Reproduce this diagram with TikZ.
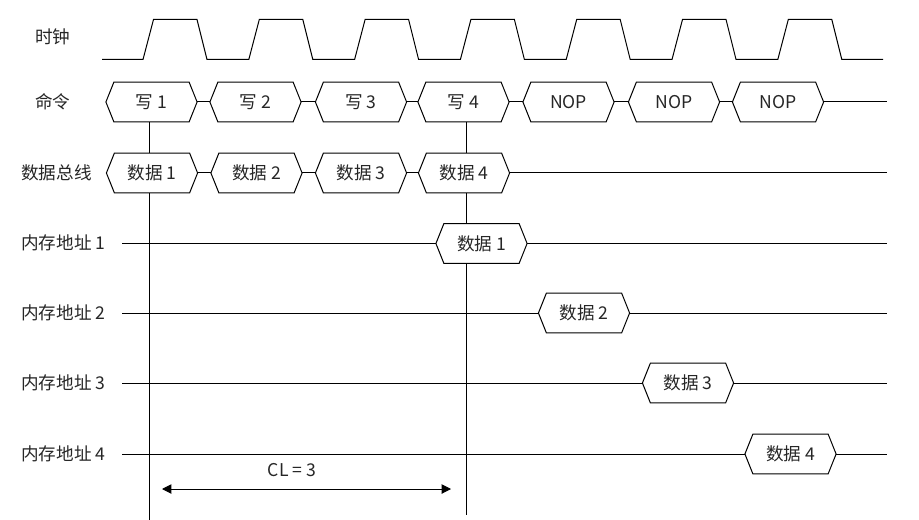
\documentclass[tikz,border=0pt]{standalone}
\usepackage{fontspec}
\newfontfamily\cjk{Noto Sans CJK SC}
\usetikzlibrary{calc,arrows.meta}
\tikzset{
  sig/.style={line width=0.75pt, black, line join=miter},
  txt/.style={font=\cjk\fontsize{13.2}{15}\selectfont, text=black!85},
  hexn/.style={txt, minimum width=56pt, minimum height=29.5pt, inner sep=0pt},
  lbl/.style={txt, anchor=west, inner sep=0pt},
}
\newcommand\hexbox[4]{%
  \node[hexn] (#1) at (#2,#3) {#4};
  \coordinate (#1-l) at ($(#1.west)+(-8,0)$);
  \coordinate (#1-r) at ($(#1.east)+(8,0)$);
  \draw[sig] (#1.north west) -- (#1.north east) -- (#1-r) -- (#1.south east) -- (#1.south west) -- (#1-l) -- cycle;
}
\begin{document}
\begin{tikzpicture}[x=0.75pt,y=-0.75pt]
\useasboundingbox (0,0) rectangle (919,520);

% row labels
\node[lbl] (lclk) at (35,37) {时钟};
\node[lbl] (lcmd) at (35,102) {命令};
\node[lbl] (ldat) at (21,173) {数据总线};
\node[lbl] (lm1) at (21,243) {内存地址 1};
\node[lbl] (lm2) at (21,313) {内存地址 2};
\node[lbl] (lm3) at (21,383) {内存地址 3};
\node[lbl] (lm4) at (21,454) {内存地址 4};

% clock
\draw[sig] (102,59.5)
  \foreach \k in {0,...,6} {
    -- ({143+105.8*\k},59.5) -- ({153.5+105.8*\k},19.5)
    -- ({197+105.8*\k},19.5) -- ({207+105.8*\k},59.5)
  } -- (883,59.5);

% command bus
\hexbox{c1}{151.5}{102}{写 1}
\hexbox{c2}{255.5}{102}{写 2}
\hexbox{c3}{361}{102}{写 3}
\hexbox{c4}{463.5}{102}{写 4}
\hexbox{c5}{568.5}{102}{NOP}
\hexbox{c6}{674}{102}{NOP}
\hexbox{c7}{778}{102}{NOP}
\coordinate (cend) at (887,102);
\draw[sig] (c1-r) -- (c2-l) (c2-r) -- (c3-l) (c3-r) -- (c4-l) (c4-r) -- (c5-l)
  (c5-r) -- (c6-l) (c6-r) -- (c7-l) (c7-r) -- (cend);

% data bus
\hexbox{d1}{152}{173}{数据 1}
\hexbox{d2}{256.5}{173}{数据 2}
\hexbox{d3}{361}{173}{数据 3}
\hexbox{d4}{464}{173}{数据 4}
\coordinate (dend) at (887,173);
\draw[sig] (d1-r) -- (d2-l) (d2-r) -- (d3-l) (d3-r) -- (d4-l) (d4-r) -- (dend);

% memory rows
\hexbox{m1}{481.5}{243.5}{数据 1}
\hexbox{m2}{584}{313}{数据 2}
\hexbox{m3}{688}{383}{数据 3}
\hexbox{m4}{790.5}{454}{数据 4}
\foreach \m/\y in {m1/243.5, m2/313, m3/383, m4/454} {
  \coordinate (\m-s) at (122,\y);
  \coordinate (\m-e) at (887,\y);
  \draw[sig] (\m-s) -- (\m-l) (\m-r) -- (\m-e);
}

% vertical markers
\coordinate (xa) at (149,0);
\coordinate (xb) at (466,0);
\coordinate (va) at (149,520);
\coordinate (vb) at (466,515);
\draw[sig] (c1.south -| xa) -- (d1.north -| xa) (d1.south -| xa) -- (va);
\draw[sig] (c4.south -| xb) -- (d4.north -| xb) (d4.south -| xb) -- (m1.north -| xb) (m1.south -| xb) -- (vb);

% CL arrow
\coordinate (a1) at (162,489);
\coordinate (a2) at (451,489);
\draw[sig, {Triangle[length=7pt,width=7pt]}-{Triangle[length=7pt,width=7pt]}] (a1) -- (a2);
\node[txt, inner sep=0pt] (cl) at (292,470) {CL = 3};
\end{tikzpicture}
\end{document}
